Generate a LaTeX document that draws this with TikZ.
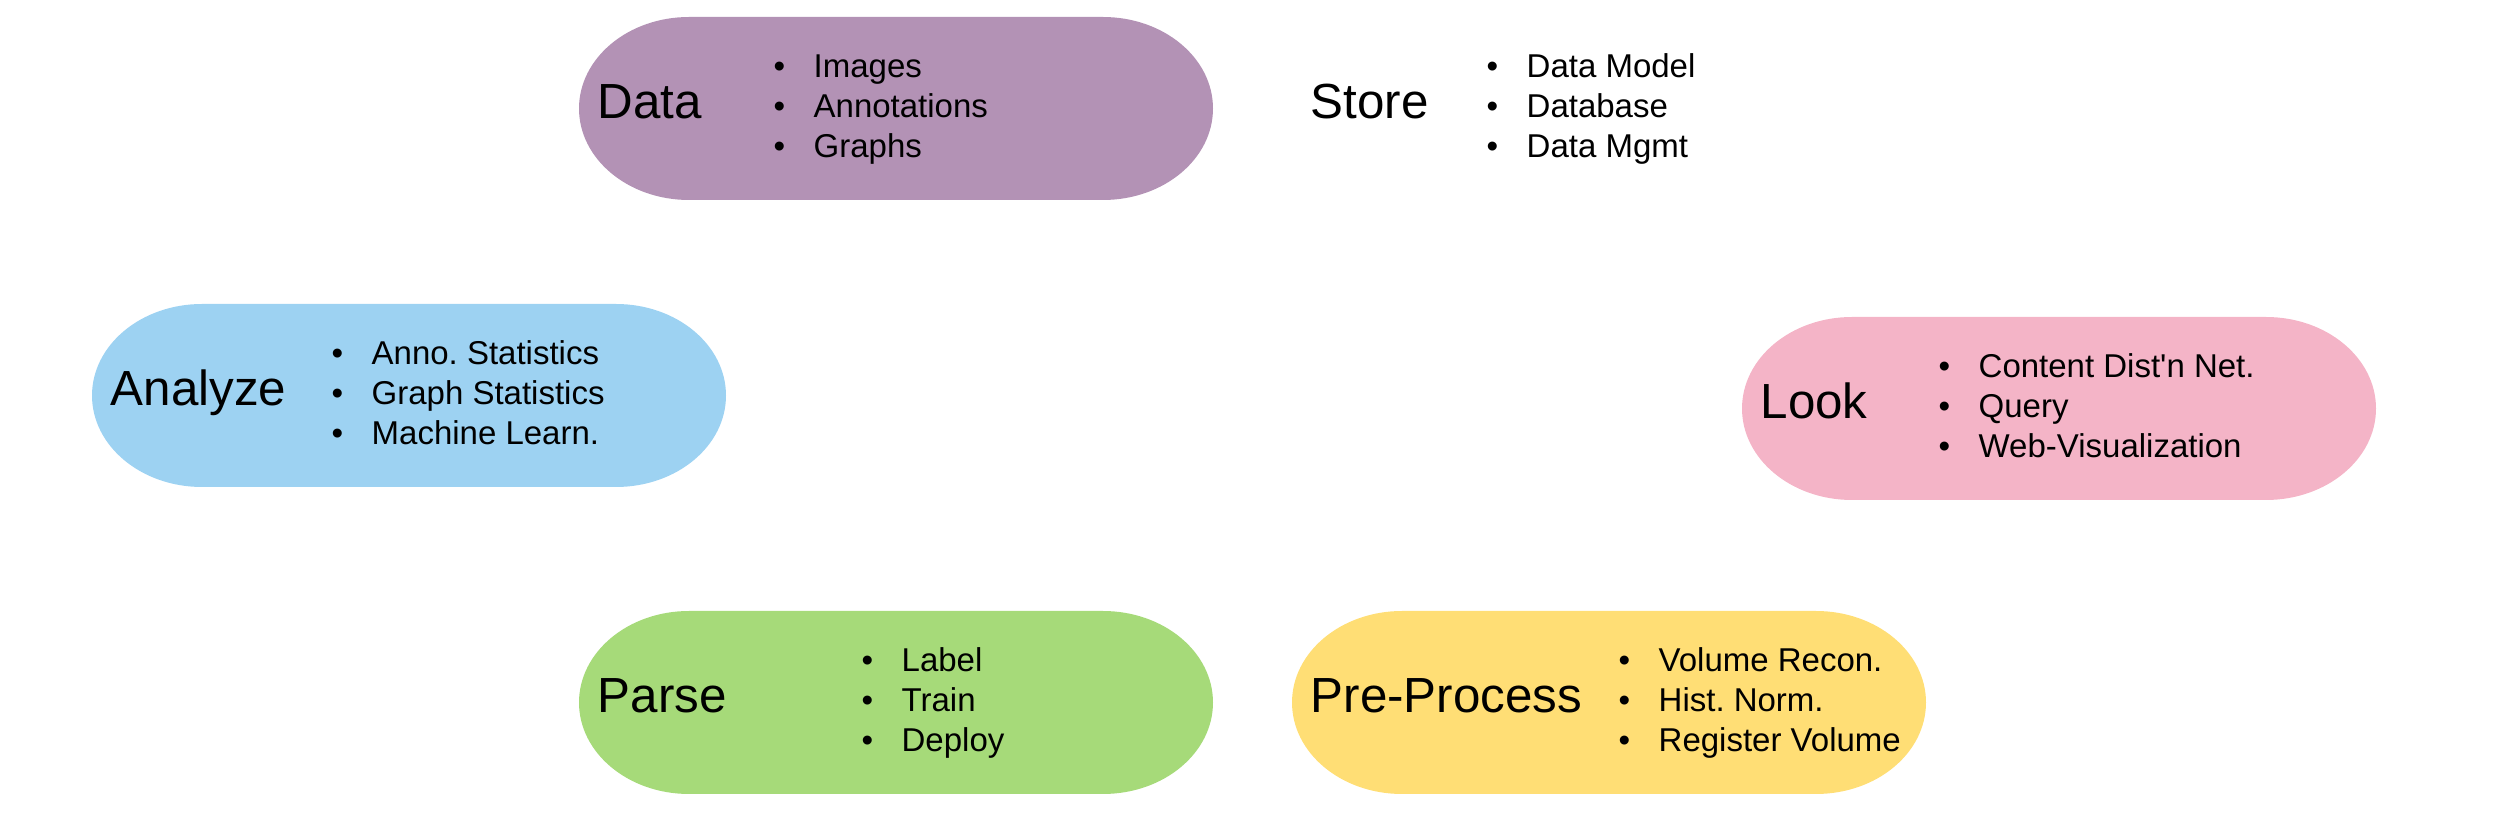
\documentclass[tikz,border=0pt]{standalone}
\usepackage{fontspec}
\setmainfont{Liberation Sans}
\usepackage{xcolor}
\usetikzlibrary{positioning}
\frenchspacing
\newcommand{\blt}{\makebox[12pt][l]{\textbullet}}
\definecolor{colorData}{HTML}{B392B5}
\definecolor{colorAnalyze}{HTML}{9DD2F2}
\definecolor{colorLook}{HTML}{F4B4C7}
\definecolor{colorParse}{HTML}{A6DA79}
\definecolor{colorPre}{HTML}{FFDE75}

\begin{document}
\begin{tikzpicture}[x=0.3pt,y=-0.3pt,blob/.style={minimum width=190.2pt, minimum height=54.9pt, inner sep=0pt, outer sep=0pt, path picture={\fill[#1] ([xshift=33pt]path picture bounding box.north west) -- ([xshift=-33pt]path picture bounding box.north east) arc[start angle=90, end angle=-90, x radius=33pt, y radius=27.45pt] -- ([xshift=33pt]path picture bounding box.south west) arc[start angle=270, end angle=90, x radius=33pt, y radius=27.45pt] -- cycle;}},title/.style={anchor=base west, inner sep=0pt, font=\fontsize{14.8}{17}\selectfont},items/.style={anchor=base west, inner sep=0pt, font=\fontsize{9.9}{12}\selectfont},]
    \useasboundingbox (0,0) rectangle (2517,838);
    \node [blob=colorData] (Data) at (896,108.5) {};
    \node [blob=white] (Store) at (1609,108.5) {};
    \node [blob=colorAnalyze] (Analyze) at (409,395.5) {};
    \node [blob=colorLook] (Look) at (2059,408.5) {};
    \node [blob=colorParse] (Parse) at (896,702.5) {};
    \node [blob=colorPre] (Pre) at (1609,702.5) {};
    \node [title] (DataT) at ([shift={(18,10.5)}]Data.west) {Data};
    \node [items] (DataL) at ([shift={(194,-31)}]Data.west) {\begin{tabular}[t]{@{}l@{}}\blt Images\\\blt Annotations\\\blt Graphs\end{tabular}};
    \node [title] (StoreT) at ([shift={(18,10.5)}]Store.west) {Store};
    \node [items] (StoreL) at ([shift={(194,-31)}]Store.west) {\begin{tabular}[t]{@{}l@{}}\blt Data Model\\\blt Database\\\blt Data Mgmt\end{tabular}};
    \node [title] (AnalyzeT) at ([shift={(18,10.5)}]Analyze.west) {Analyze};
    \node [items] (AnalyzeL) at ([shift={(239,-31)}]Analyze.west) {\begin{tabular}[t]{@{}l@{}}\blt Anno. Statistics\\\blt Graph Statistics\\\blt Machine Learn.\end{tabular}};
    \node [title] (LookT) at ([shift={(18,10.5)}]Look.west) {Look};
    \node [items] (LookL) at ([shift={(196,-31)}]Look.west) {\begin{tabular}[t]{@{}l@{}}\blt Content Dist\textquotesingle n Net.\\\blt Query\\\blt Web-Visualization\end{tabular}};
    \node [title] (ParseT) at ([shift={(18,10.5)}]Parse.west) {Parse};
    \node [items] (ParseL) at ([shift={(282,-31)}]Parse.west) {\begin{tabular}[t]{@{}l@{}}\blt Label\\\blt Train\\\blt Deploy\end{tabular}};
    \node [title] (PreT) at ([shift={(18,10.5)}]Pre.west) {Pre-Process};
    \node [items] (PreL) at ([shift={(326,-31)}]Pre.west) {\begin{tabular}[t]{@{}l@{}}\blt Volume Recon.\\\blt Hist. Norm.\\\blt Register Volume\end{tabular}};
\end{tikzpicture}
\end{document}
